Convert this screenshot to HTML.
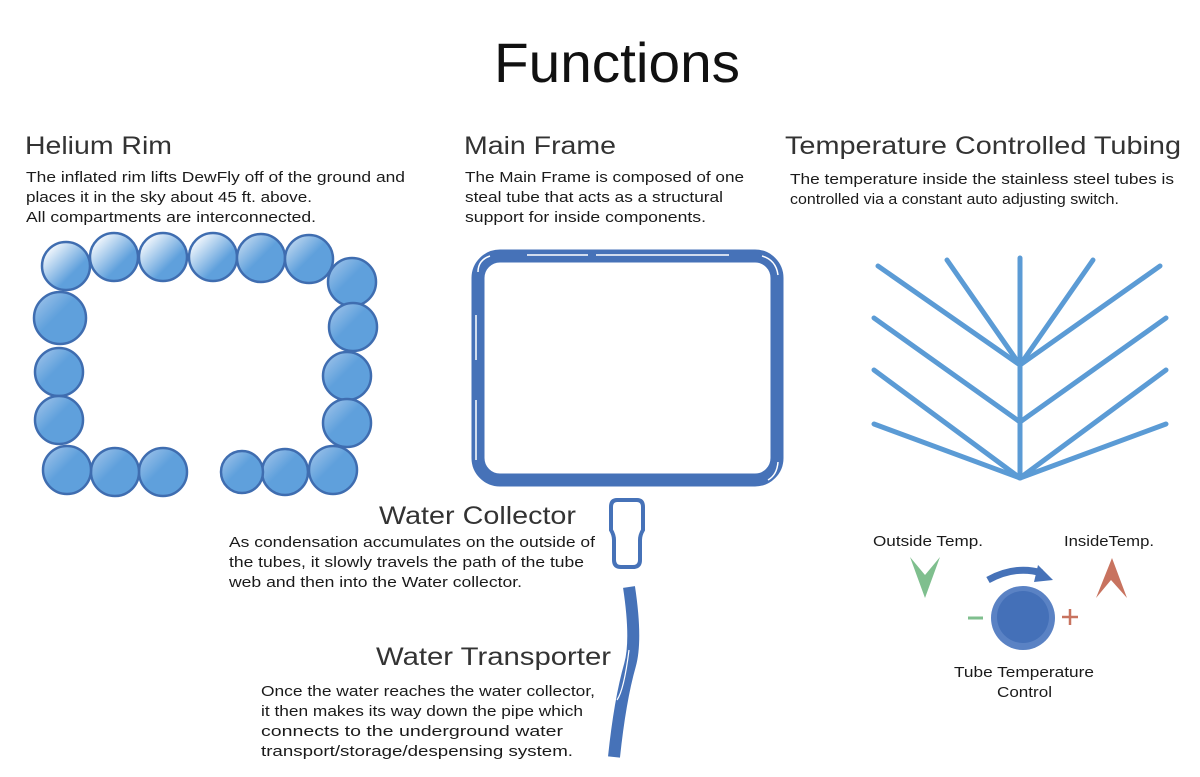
<!DOCTYPE html>
<html><head><meta charset="utf-8"><style>
html,body{margin:0;padding:0;background:#fff;}
svg{display:block;}
text{font-family:"Liberation Sans",sans-serif;fill:#1a1a1a;}
.h{font-size:25px;fill:#333;font-weight:normal;}
.b{font-size:15px;}
</style></head><body>
<svg width="1200" height="777" viewBox="0 0 1200 777" xmlns="http://www.w3.org/2000/svg">
<defs>
<linearGradient id="g1" x1="0" y1="0" x2="1" y2="1"><stop offset="0.1" stop-color="#ffffff"/><stop offset="0.65" stop-color="#5fa0dc"/></linearGradient>
<linearGradient id="g2" x1="0" y1="0" x2="1" y2="1"><stop offset="0" stop-color="#d8e6f5"/><stop offset="0.5" stop-color="#5fa0dc"/></linearGradient>
<linearGradient id="g3" x1="0" y1="0" x2="1" y2="1"><stop offset="0" stop-color="#a9c9ec"/><stop offset="0.45" stop-color="#5fa0dc"/></linearGradient>
</defs>
<rect width="1200" height="777" fill="#fff"/>
<g lengthAdjust="spacingAndGlyphs">
<text x="494" y="82" style="font-size:56px;fill:#111" textLength="246" lengthAdjust="spacingAndGlyphs">Functions</text>

<text class="h" x="25" y="154" textLength="147" lengthAdjust="spacingAndGlyphs">Helium Rim</text>
<text class="b" x="26" y="182" textLength="379" lengthAdjust="spacingAndGlyphs">The inflated rim lifts DewFly off of the ground and</text>
<text class="b" x="26" y="202" textLength="286" lengthAdjust="spacingAndGlyphs">places it in the sky about 45 ft. above.</text>
<text class="b" x="26" y="222" textLength="290" lengthAdjust="spacingAndGlyphs">All compartments are interconnected.</text>

<text class="h" x="464" y="154" textLength="152" lengthAdjust="spacingAndGlyphs">Main Frame</text>
<text class="b" x="465" y="182" textLength="279" lengthAdjust="spacingAndGlyphs">The Main Frame is composed of one</text>
<text class="b" x="465" y="202" textLength="258" lengthAdjust="spacingAndGlyphs">steal tube that acts as a structural</text>
<text class="b" x="465" y="222" textLength="241" lengthAdjust="spacingAndGlyphs">support for inside components.</text>

<text class="h" x="785" y="154" textLength="396" lengthAdjust="spacingAndGlyphs">Temperature Controlled Tubing</text>
<text class="b" x="790" y="184" textLength="384" lengthAdjust="spacingAndGlyphs">The temperature inside the stainless steel tubes is</text>
<text class="b" x="790" y="204" textLength="329" lengthAdjust="spacingAndGlyphs">controlled via a constant auto adjusting switch.</text>

<text class="h" x="379" y="524" textLength="197" lengthAdjust="spacingAndGlyphs">Water Collector</text>
<text class="b" x="229" y="547" textLength="366" lengthAdjust="spacingAndGlyphs">As condensation accumulates on the outside of</text>
<text class="b" x="229" y="567" textLength="355" lengthAdjust="spacingAndGlyphs">the tubes, it slowly travels the path of the tube</text>
<text class="b" x="229" y="587" textLength="293" lengthAdjust="spacingAndGlyphs">web and then into the Water collector.</text>

<text class="h" x="376" y="665" textLength="235" lengthAdjust="spacingAndGlyphs">Water Transporter</text>
<text class="b" x="261" y="696" textLength="334" lengthAdjust="spacingAndGlyphs">Once the water reaches the water collector,</text>
<text class="b" x="261" y="716" textLength="322" lengthAdjust="spacingAndGlyphs">it then makes its way down the pipe which</text>
<text class="b" x="261" y="736" textLength="302" lengthAdjust="spacingAndGlyphs">connects to the underground water</text>
<text class="b" x="261" y="756" textLength="312" lengthAdjust="spacingAndGlyphs">transport/storage/despensing system.</text>
</g>

<!-- helium rim circles -->
<g stroke="#3f6db0" stroke-width="2.5">
<circle cx="66" cy="266" r="24" fill="url(#g1)"/>
<circle cx="114" cy="257" r="24" fill="url(#g1)"/>
<circle cx="163" cy="257" r="24" fill="url(#g1)"/>
<circle cx="213" cy="257" r="24" fill="url(#g1)"/>
<circle cx="261" cy="258" r="24" fill="url(#g2)"/>
<circle cx="309" cy="259" r="24" fill="url(#g2)"/>
<circle cx="352" cy="282" r="24" fill="url(#g3)"/>
<circle cx="353" cy="327" r="24" fill="url(#g3)"/>
<circle cx="347" cy="376" r="24" fill="url(#g3)"/>
<circle cx="347" cy="423" r="24" fill="url(#g3)"/>
<circle cx="333" cy="470" r="24" fill="url(#g3)"/>
<circle cx="285" cy="472" r="23" fill="url(#g3)"/>
<circle cx="242" cy="472" r="21" fill="url(#g3)"/>
<circle cx="163" cy="472" r="24" fill="url(#g3)"/>
<circle cx="115" cy="472" r="24" fill="url(#g3)"/>
<circle cx="67" cy="470" r="24" fill="url(#g3)"/>
<circle cx="60" cy="318" r="26" fill="url(#g3)"/>
<circle cx="59" cy="372" r="24" fill="url(#g3)"/>
<circle cx="59" cy="420" r="24" fill="url(#g3)"/>
</g>

<!-- main frame -->
<rect x="478" y="256" width="299" height="224" rx="22" fill="none" stroke="#4672b8" stroke-width="13"/>
<g stroke="#fff" stroke-width="1.5" fill="none">
<line x1="527" y1="255" x2="588" y2="255"/><line x1="596" y1="255" x2="729" y2="255"/>
<line x1="476" y1="315" x2="476" y2="360"/><line x1="476" y1="400" x2="476" y2="460"/>
<path d="M478 272 Q478 260 490 256"/><path d="M778 462 Q777 475 768 480"/><path d="M762 256 Q776 260 778 275"/>
</g>

<!-- water collector -->
<path d="M617 500 H637 Q643 500 643 507 V530 Q640 535 640 540 V560 Q640 567 633 567 H621 Q614 567 614 560 V540 Q614 535 611 530 V507 Q611 500 617 500 Z" fill="none" stroke="#4672b8" stroke-width="4"/>

<!-- pipe -->
<path d="M629 587 Q637 640 630 665 Q620 700 614 757" fill="none" stroke="#4672b8" stroke-width="12"/>
<path d="M629 650 Q624 690 617 700" fill="none" stroke="#fff" stroke-width="1.2"/>

<!-- tubing -->
<g stroke="#5b9bd5" stroke-width="5" stroke-linecap="round" fill="none">
<line x1="878" y1="266" x2="1020" y2="365"/>
<line x1="947" y1="260" x2="1020" y2="365"/>
<line x1="1020" y1="258" x2="1020" y2="478"/>
<line x1="1093" y1="260" x2="1020" y2="365"/>
<line x1="1160" y1="266" x2="1020" y2="365"/>
<line x1="874" y1="318" x2="1020" y2="422"/>
<line x1="1166" y1="318" x2="1020" y2="422"/>
<line x1="874" y1="370" x2="1020" y2="478"/>
<line x1="1166" y1="370" x2="1020" y2="478"/>
<line x1="874" y1="424" x2="1020" y2="478"/>
<line x1="1166" y1="424" x2="1020" y2="478"/>
</g>

<!-- temp control -->
<text x="873" y="546" style="font-size:15px" textLength="110" lengthAdjust="spacingAndGlyphs">Outside Temp.</text>
<text x="1064" y="546" style="font-size:15px" textLength="90" lengthAdjust="spacingAndGlyphs">InsideTemp.</text>
<polygon points="910,557 925,575 940,557 925,598" fill="#7fbf8e"/>
<polygon points="1096,598 1111,580 1127,598 1112,558" fill="#c8735f"/>
<path d="M988 580 Q1015 565 1042 573" fill="none" stroke="#4672b8" stroke-width="7"/>
<polygon points="1038,565 1053,580 1034,582" fill="#4672b8"/>
<circle cx="1023" cy="618" r="32" fill="#5a82c4"/>
<circle cx="1023" cy="617" r="26" fill="#4470b8"/>
<line x1="968" y1="618" x2="983" y2="618" stroke="#7fbf8e" stroke-width="3"/>
<line x1="1062" y1="617" x2="1078" y2="617" stroke="#c8735f" stroke-width="2.5"/>
<line x1="1070" y1="609" x2="1070" y2="625" stroke="#c8735f" stroke-width="2.5"/>
<text x="954" y="677" style="font-size:15px" textLength="140" lengthAdjust="spacingAndGlyphs">Tube Temperature</text>
<text x="997" y="697" style="font-size:15px" textLength="55" lengthAdjust="spacingAndGlyphs">Control</text>
</svg>
</body></html>
